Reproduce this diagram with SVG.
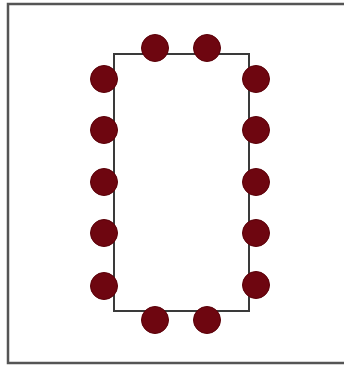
<svg xmlns="http://www.w3.org/2000/svg" width="344" height="365" viewBox="0 0 344 365">
<style>
.pin{fill:#6e0610;stroke:#5a0008;stroke-width:1}
.body{fill:none;stroke:#3a3a3a;stroke-width:2}
.frame{fill:#fff;stroke:#555;stroke-width:2.5}
</style>
<rect class="frame" x="8" y="4" width="340" height="359"/>
<g id="body"><rect class="body" x="114" y="54" width="135" height="257"/></g>
<g id="pins">
<circle class="pin" cx="155" cy="48" r="13.5"/>
<circle class="pin" cx="207" cy="48" r="13.5"/>
<circle class="pin" cx="104" cy="79" r="13.5"/>
<circle class="pin" cx="104" cy="130" r="13.5"/>
<circle class="pin" cx="104" cy="182" r="13.5"/>
<circle class="pin" cx="104" cy="233" r="13.5"/>
<circle class="pin" cx="104" cy="286" r="13.5"/>
<circle class="pin" cx="256" cy="79" r="13.5"/>
<circle class="pin" cx="256" cy="130" r="13.5"/>
<circle class="pin" cx="256" cy="182" r="13.5"/>
<circle class="pin" cx="256" cy="233" r="13.5"/>
<circle class="pin" cx="256" cy="285" r="13.5"/>
<circle class="pin" cx="155" cy="320" r="13.5"/>
<circle class="pin" cx="207" cy="320" r="13.5"/>
</g>
</svg>
